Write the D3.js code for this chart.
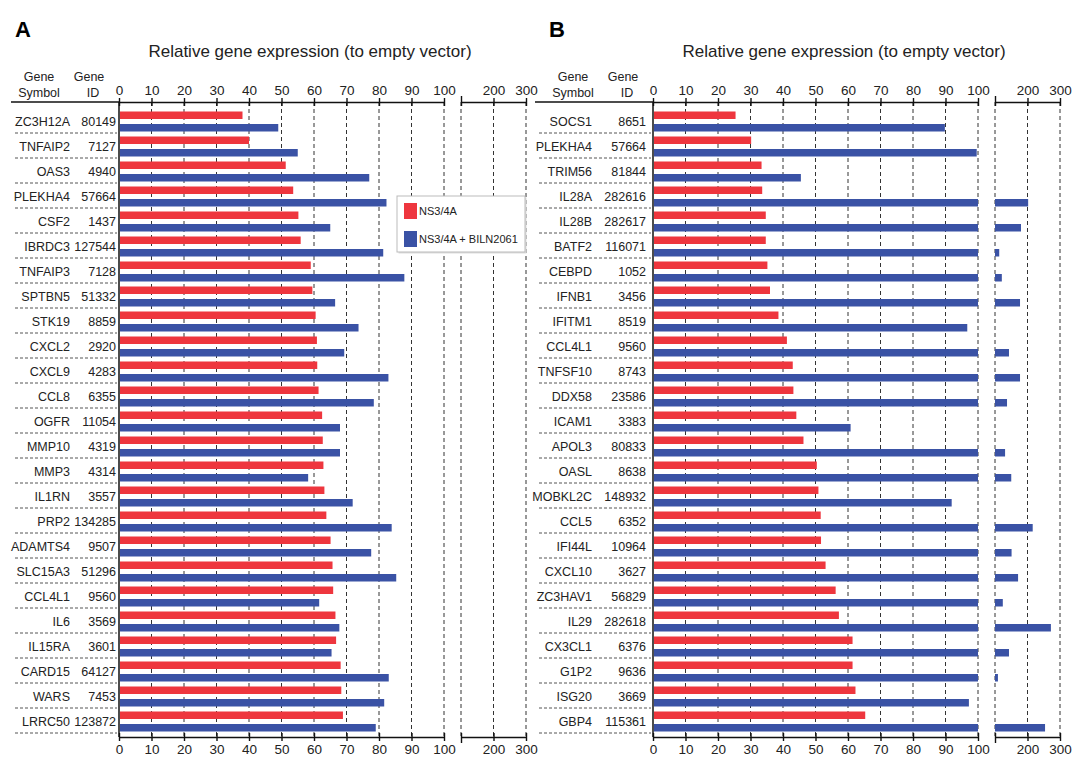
<!DOCTYPE html>
<html>
<head>
<meta charset="utf-8">
<script src="https://cdn.jsdelivr.net/npm/d3@7"></script>
<style>
  body { margin: 0; background: #fff; }
  text { font-family: "Liberation Sans", Arial, sans-serif; fill: #222; }
</style>
</head>
<body>
<svg id="graph" width="1072" height="760"></svg>
<script>
  var svg = d3.select("#graph");

  // panel A data
  var genesA = ["ZC3H12A","TNFAIP2","OAS3","PLEKHA4","CSF2","IBRDC3","TNFAIP3","SPTBN5","STK19","CXCL2","CXCL9","CCL8","OGFR",
                "MMP10","MMP3","IL1RN","PRP2","ADAMTS4","SLC15A3","CCL4L1","IL6","IL15RA","CARD15","WARS","LRRC50"];
  var idsA = ["80149","7127","4940","57664","1437","127544","7128","51332","8859","2920","4283","6355","11054",
              "4319","4314","3557","134285","9507","51296","9560","3569","3601","64127","7453","123872"];
  var redA = [38, 40, 51.3, 53.6, 55.2, 55.9, 59, 59.5, 60.5, 60.9, 61, 61.4, 62.5,
              62.7, 62.9, 63.2, 63.8, 65.1, 65.7, 65.9, 66.6, 66.8, 68.2, 68.4, 68.9];
  var blueA = [49, 55, 77, 82.3, 65, 81.3, 87.8, 66.5, 73.7, 69.3, 82.9, 78.4, 68,
               68, 58.2, 71.9, 83.9, 77.6, 85.3, 61.6, 67.8, 65.4, 83, 81.6, 79];

  // panel B data
  var genesB = ["SOCS1","PLEKHA4","TRIM56","IL28A","IL28B","BATF2","CEBPD","IFNB1","IFITM1","CCL4L1","TNFSF10","DDX58","ICAM1",
                "APOL3","OASL","MOBKL2C","CCL5","IFI44L","CXCL10","ZC3HAV1","IL29","CX3CL1","G1P2","ISG20","GBP4"];
  var idsB = ["8651","57664","81844","282616","282617","116071","1052","3456","8519","9560","8743","23586","3383",
              "80833","8638","148932","6352","10964","3627","56829","282618","6376","9636","3669","115361"];
  var redB = [25.4, 30.2, 33.4, 33.6, 34.7, 34.7, 35.2, 36, 38.6, 41.2, 43, 43.2, 44.1,
              46.3, 50.4, 50.9, 51.6, 51.7, 53.1, 56.2, 57.2, 61.4, 61.4, 62.3, 65.3];
  var blueB = [89.8, 99.6, 45.5, 202, 180, 113, 121, 177, 96.7, 143, 177, 137, 60.8,
               131, 150, 91.9, 216, 151, 171, 124, 272, 143, 109, 97.2, 254];

  var ticksMain = [0,10,20,30,40,50,60,70,80,90,100];
  var ticksBreak = [200,300];
  var seriesNames = ["NS3/4A", "NS3/4A + BILN2061"];
  var colors = ["#ee363e", "#3a52a5"];

  var axisY = 102, rowTop = 108, rowBottom = 733, bottomY = 737;

  function panel(label, x0, genes, ids, red, blue, legend) {
    var g = svg.append("g").attr("transform", "translate(" + x0 + ",0)");
    var left = label == "A" ? -104 : -114;

    var x = d3.scaleLinear().domain([0, 100]).range([0, 325]);
    var xb = d3.scaleLinear().domain([100, 300]).range([342, 407]);
    var y = d3.scaleBand().domain(genes).range([rowTop, rowBottom]);

    // panel letter and title
    svg.append("text").text(label)
      .attr("x", x0 - 104).attr("y", 37)
      .style("font-size", "22px").style("font-weight", "bold").style("fill", "#000");
    g.append("text").text("Relative gene expression (to empty vector)")
      .attr("x", 191).attr("y", 57)
      .attr("text-anchor", "middle").style("font-size", "17px");

    // header
    g.append("text").text("Gene").attr("x", -80).attr("y", 81).attr("text-anchor", "middle").style("font-size", "12.5px");
    g.append("text").text("Symbol").attr("x", -80).attr("y", 97).attr("text-anchor", "middle").style("font-size", "12.5px");
    g.append("text").text("Gene").attr("x", -30).attr("y", 81).attr("text-anchor", "middle").style("font-size", "12.5px");
    g.append("text").text("ID").attr("x", -26).attr("y", 97).attr("text-anchor", "middle").style("font-size", "12.5px");
    g.append("line").attr("x1", left - 4).attr("x2", 0).attr("y1", axisY).attr("y2", axisY)
      .attr("stroke", "#111").attr("stroke-width", 1.3);

    // dashed gridlines
    var gridMain = ticksMain.slice(1);
    var gridBreak = [100].concat(ticksBreak);
    g.selectAll(".gridM").data(gridMain).enter().append("line")
      .attr("x1", function(d){ return x(d); }).attr("x2", function(d){ return x(d); })
      .attr("y1", axisY).attr("y2", bottomY)
      .attr("stroke", "#333").attr("stroke-dasharray", "4,3");
    g.selectAll(".gridB").data(gridBreak).enter().append("line")
      .attr("x1", function(d){ return xb(d); }).attr("x2", function(d){ return xb(d); })
      .attr("y1", axisY).attr("y2", bottomY)
      .attr("stroke", "#333").attr("stroke-dasharray", "4,3");

    // row labels and separators
    var rows = g.selectAll(".row").data(genes).enter().append("g").attr("class", "row");
    rows.append("text").text(function(d){ return d; })
      .attr("x", label == "A" ? -49 : -61).attr("y", function(d){ return y(d) + 14; })
      .attr("dy", "0.35em").attr("text-anchor", "end").style("font-size", "12.5px");
    rows.append("text").text(function(d, i){ return ids[i]; })
      .attr("x", label == "A" ? -3 : -7).attr("y", function(d){ return y(d) + 14; })
      .attr("dy", "0.35em").attr("text-anchor", "end").style("font-size", "12.5px");
    rows.append("line")
      .attr("x1", left).attr("x2", -2)
      .attr("y1", function(d){ return y(d) + y.bandwidth(); })
      .attr("y2", function(d){ return y(d) + y.bandwidth(); })
      .attr("stroke", "#555").attr("stroke-dasharray", "3,2");

    // bars
    var series = [red, blue];
    series.forEach(function(vals, s) {
      var off = s == 0 ? 3.5 : 16;
      g.selectAll(".bar" + s).data(genes).enter().append("rect")
        .attr("x", x(0) + 1)
        .attr("y", function(d){ return y(d) + off; })
        .attr("width", function(d, i){ return x(Math.min(vals[i], 100)) - x(0) - 1; })
        .attr("height", 7.5)
        .attr("fill", colors[s]);
      g.selectAll(".barb" + s).data(genes.filter(function(d, i){ return vals[i] > 100; })).enter().append("rect")
        .attr("x", xb(100))
        .attr("y", function(d){ return y(d) + off; })
        .attr("width", function(d){ return xb(vals[genes.indexOf(d)]) - xb(100); })
        .attr("height", 7.5)
        .attr("fill", colors[s]);
    });

    // axes
    function drawAxis(yPos, top) {
      var a1 = g.append("g").attr("transform", "translate(0," + yPos + ")")
        .call((top ? d3.axisTop(x) : d3.axisBottom(x)).tickValues(ticksMain).tickSize(4).tickSizeOuter(0).tickPadding(3));
      var a2 = g.append("g").attr("transform", "translate(0," + yPos + ")")
        .call((top ? d3.axisTop(xb) : d3.axisBottom(xb)).tickValues([100].concat(ticksBreak))
              .tickFormat(function(d){ return d == 100 ? "" : d; }).tickSize(4).tickSizeOuter(0).tickPadding(3));
      [a1, a2].forEach(function(a) {
        a.select(".domain").attr("stroke", "#111").attr("stroke-width", 1.4);
        a.selectAll(".tick line").attr("stroke", "#111").attr("stroke-width", 1.4);
        a.selectAll(".tick").append("line").attr("y1", 0).attr("y2", top ? 4 : -4)
          .attr("stroke", "#111").attr("stroke-width", 1.4);
        a.selectAll(".tick text").style("font-size", "13.5px").style("font-family", "Liberation Sans, Arial, sans-serif").attr("fill", "#222");
      });
      a2.select(".tick line").attr("y2", top ? -6 : 6);
    }
    drawAxis(axisY, true);
    drawAxis(bottomY, false);

    g.append("line").attr("x1", 0).attr("x2", 0).attr("y1", axisY).attr("y2", bottomY)
      .attr("stroke", "#111").attr("stroke-width", 1.5);

    // legend
    if (legend) {
      var lg = g.append("g").attr("transform", "translate(278,196)");
      lg.append("rect").attr("x", 1.5).attr("y", 1.5).attr("width", 128).attr("height", 56).attr("fill", "#ddd");
      lg.append("rect").attr("width", 128).attr("height", 56).attr("fill", "#fff").attr("stroke", "#bbb");
      seriesNames.forEach(function(n, i) {
        lg.append("rect").attr("x", 7).attr("y", 7 + i * 28).attr("width", 13).attr("height", 16).attr("fill", colors[i]);
        lg.append("text").text(n).attr("x", 22).attr("y", 15 + i * 28).attr("dy", "0.35em").style("font-size", "11px");
      });
    }
  }

  panel("A", 119, genesA, idsA, redA, blueA, true);
  panel("B", 653, genesB, idsB, redB, blueB, false);
</script>
</body>
</html>
